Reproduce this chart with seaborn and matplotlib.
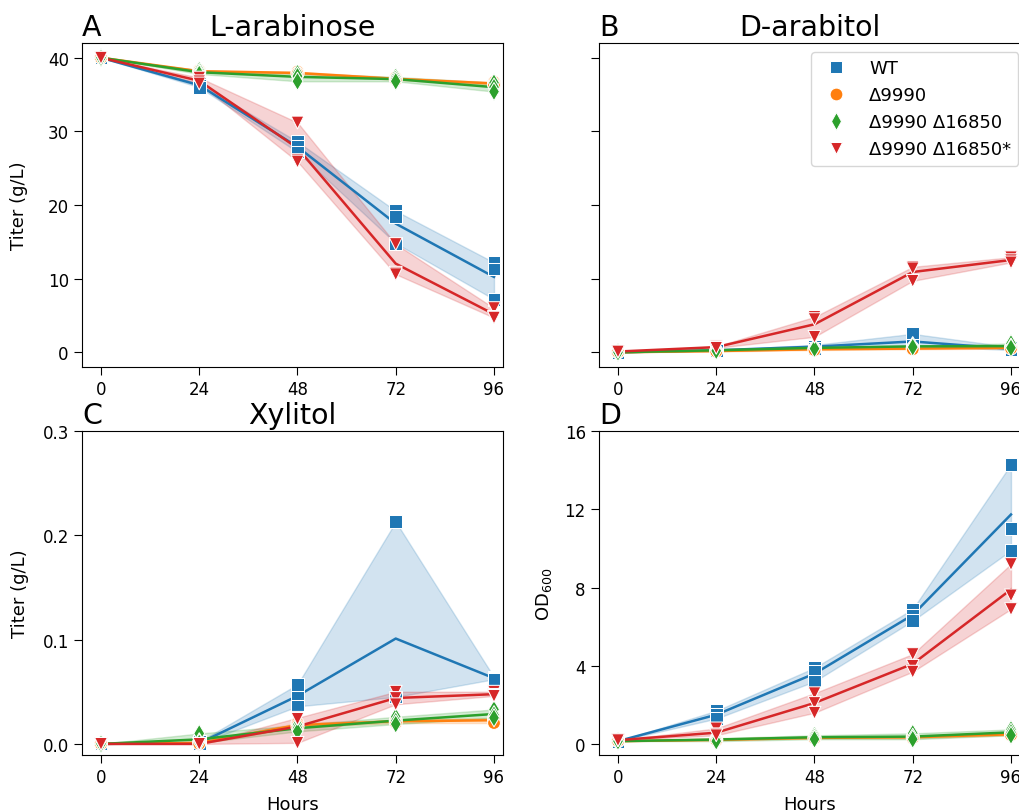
import numpy as np
import pandas as pd
import matplotlib
matplotlib.use("Agg")
import matplotlib.pyplot as plt
import seaborn as sns

hours = [0, 24, 48, 72, 96]
strains = ["WT", "Δ9990", "Δ9990 Δ16850", "Δ9990 Δ16850*"]
colors = ["#1f77b4", "#ff7f0e", "#2ca02c", "#d62728"]
marker_list = ["s", "o", "d", "v"]

# three replicates per time point (0, 24, 48, 72, 96 h)
ara_wt = [[40.0, 40.0, 40.0], [36.5, 36.3, 36.0], [28.6, 27.9, 27.2], [19.2, 18.4, 14.8], [12.2, 11.3, 7.2]]
ara_d1 = [[40.0, 40.0, 40.0], [38.3, 38.2, 38.0], [38.1, 37.9, 37.8], [37.3, 37.1, 37.0], [36.7, 36.5, 36.3]]
ara_d2 = [[40.0, 40.0, 40.0], [38.3, 38.0, 37.8], [37.9, 37.5, 36.8], [37.4, 37.1, 36.8], [36.6, 36.0, 35.4]]
ara_d3 = [[40.0, 40.0, 40.0], [37.3, 36.8, 36.5], [31.2, 26.1, 25.9], [14.7, 10.8, 10.6], [6.0, 4.8, 4.7]]

arb_wt = [[0.0, 0.0, 0.0], [0.3, 0.3, 0.2], [1.0, 0.8, 0.5], [2.5, 1.0, 0.9], [0.7, 0.4, 0.3]]
arb_d1 = [[0.0, 0.0, 0.0], [0.2, 0.2, 0.1], [0.5, 0.4, 0.3], [0.6, 0.5, 0.4], [0.7, 0.6, 0.5]]
arb_d2 = [[0.0, 0.0, 0.0], [0.3, 0.3, 0.2], [0.7, 0.6, 0.5], [0.9, 0.8, 0.7], [1.2, 0.7, 0.6]]
arb_d3 = [[0.1, 0.1, 0.1], [0.8, 0.7, 0.6], [4.8, 4.5, 2.1], [11.6, 11.4, 9.7], [12.9, 12.5, 12.2]]

xyl_wt = [[0.0, 0.0, 0.0], [0.002, 0.0, 0.0], [0.057, 0.045, 0.036], [0.213, 0.045, 0.045], [0.064, 0.063, 0.062]]
xyl_d1 = [[0.0, 0.0, 0.0], [0.002, 0.001, 0.0], [0.020, 0.018, 0.016], [0.023, 0.022, 0.020], [0.025, 0.023, 0.020]]
xyl_d2 = [[0.0, 0.0, 0.0], [0.010, 0.002, 0.001], [0.018, 0.015, 0.012], [0.026, 0.022, 0.019], [0.033, 0.028, 0.025]]
xyl_d3 = [[0.0, 0.0, 0.0], [0.0, 0.0, 0.0], [0.025, 0.024, 0.001], [0.050, 0.044, 0.038], [0.050, 0.047, 0.046]]

od_wt = [[0.15, 0.15, 0.15], [1.7, 1.5, 1.3], [3.9, 3.7, 3.2], [6.9, 6.6, 6.3], [14.3, 11.0, 9.9]]
od_d1 = [[0.15, 0.15, 0.15], [0.25, 0.2, 0.2], [0.35, 0.3, 0.3], [0.4, 0.35, 0.3], [0.55, 0.5, 0.45]]
od_d2 = [[0.15, 0.15, 0.15], [0.3, 0.25, 0.15], [0.45, 0.35, 0.25], [0.55, 0.35, 0.25], [0.75, 0.6, 0.45]]
od_d3 = [[0.2, 0.2, 0.2], [0.8, 0.5, 0.45], [2.6, 2.1, 1.6], [4.6, 4.0, 3.7], [9.2, 7.6, 6.9]]

panels = {
    "L-arabinose": [ara_wt, ara_d1, ara_d2, ara_d3],
    "D-arabitol": [arb_wt, arb_d1, arb_d2, arb_d3],
    "Xylitol": [xyl_wt, xyl_d1, xyl_d2, xyl_d3],
    "OD": [od_wt, od_d1, od_d2, od_d3],
}

rows = []
for panel, series in panels.items():
    for strain, reps in zip(strains, series):
        for h, vals in zip(hours, reps):
            for v in vals:
                rows.append({"Panel": panel, "Strain": strain, "Hours": h, "Value": v})
df = pd.DataFrame(rows)

palette = dict(zip(strains, colors))
markers = dict(zip(strains, marker_list))

W, H = 1019, 812
fig = plt.figure(figsize=(W / 100, H / 100), dpi=100)

def rect(l, t, r, b):
    return [l / W, 1 - b / H, (r - l) / W, (b - t) / H]

axA = fig.add_axes(rect(82, 44, 503, 368))
axB = fig.add_axes(rect(599, 44, 1020, 368), sharey=axA)
axC = fig.add_axes(rect(82, 432, 503, 756))
axD = fig.add_axes(rect(599, 432, 1020, 756))

layout = [
    (axA, "L-arabinose", "A", "L-arabinose"),
    (axB, "D-arabitol", "B", "D-arabitol"),
    (axC, "Xylitol", "C", "Xylitol"),
    (axD, "OD", "D", ""),
]

for ax, panel, letter, title in layout:
    sub = df[df["Panel"] == panel]
    sns.lineplot(data=sub, x="Hours", y="Value", hue="Strain", hue_order=strains,
                 palette=palette, errorbar=("ci", 95), seed=1, legend=False,
                 linewidth=1.8, ax=ax)
    sns.scatterplot(data=sub, x="Hours", y="Value", hue="Strain", style="Strain",
                    hue_order=strains, style_order=strains, palette=palette,
                    markers=markers, s=85, legend=(ax is axB), ax=ax, zorder=3)
    ax.set_xticks(hours)
    ax.set_xlim(-4.64, 98.2)
    ax.tick_params(labelsize=12, length=5.5, pad=4)
    ax.set_title(letter, loc="left", fontsize=20.5, pad=6)
    if title:
        ax.set_title(title, loc="center", fontsize=20.5, pad=6)
    ax.set_xlabel("")
    ax.set_ylabel("")

axA.set_ylabel("Titer (g/L)", fontsize=13)
axC.set_ylabel("Titer (g/L)", fontsize=13)
axD.set_ylabel("OD$_{600}$", fontsize=13)
axA.yaxis.set_label_coords(-0.128, 0.5)
axC.yaxis.set_label_coords(-0.126, 0.5)
axD.yaxis.set_label_coords(-0.107, 0.5)
axC.set_xlabel("Hours", fontsize=13, labelpad=6)
axD.set_xlabel("Hours", fontsize=13, labelpad=6)
axB.tick_params(labelleft=False)

axA.set_yticks([0, 10, 20, 30, 40])
axC.set_ylim(top=0.3)
axC.set_yticks([0.0, 0.1, 0.2, 0.3])
axD.set_ylim(top=16)
axD.set_yticks([0, 4, 8, 12, 16])

sns.move_legend(axB, "upper left", bbox_to_anchor=(0.504, 0.972), title=None,
                fontsize=13, borderaxespad=0, frameon=True)

fig.savefig("out.png", dpi=100)
